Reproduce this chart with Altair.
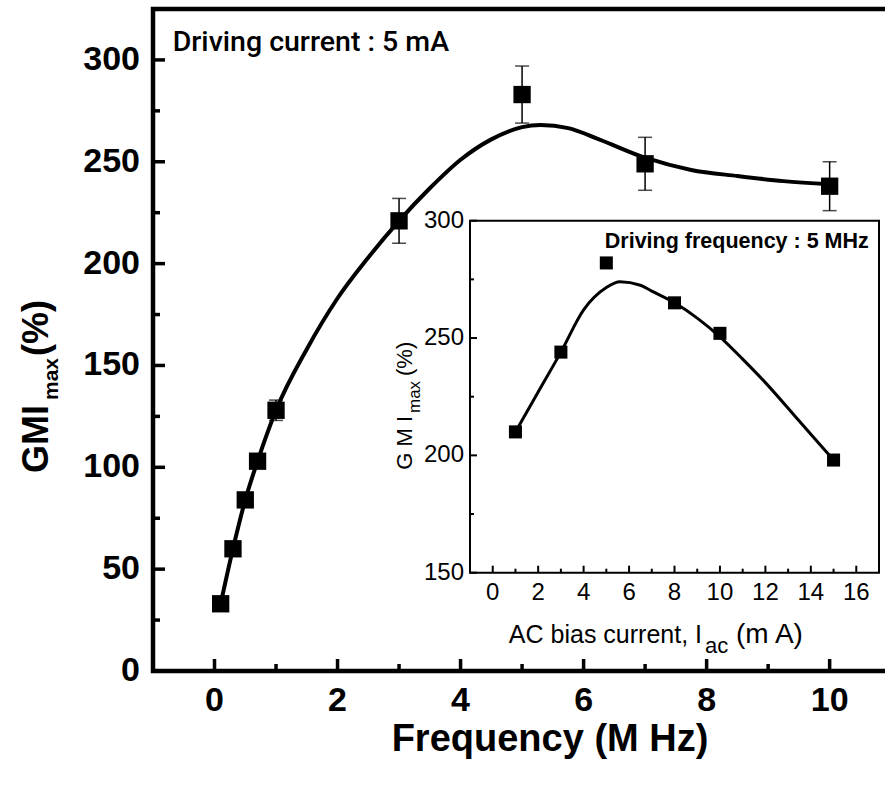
import altair as alt
import pandas as pd

# ---------------- data ----------------
freq = [0.1, 0.3, 0.5, 0.7, 1.0, 3.0, 5.0, 7.0, 10.0]
gmi = [33, 60, 84, 103, 128, 221, 283, 249, 238]
gmi_err = [3, 3, 3, 3, 5, 11, 14, 13, 12]

fit_freq = [0.1, 0.3, 0.5, 0.7, 1.0, 1.5, 2.0, 2.5, 3.0, 3.5, 4.0, 4.5, 5.0,
            5.3, 5.75, 6.25, 7.0, 7.75, 8.5, 9.25, 10.0]
fit_gmi = [33, 60, 84, 103, 128, 158, 183, 203, 221, 237, 251, 261, 267,
           268, 266.5, 261, 252, 246, 243, 240.5, 239]

iac = [1, 3, 5, 8, 10, 15]
gmi_iac = [210, 244, 282, 265, 252, 198]
fit_iac = [1, 2, 3, 4, 5, 5.6, 6.5, 7, 8, 9, 10, 11, 12, 13.5, 15]
fit_gmi_iac = [210, 227, 244, 262, 271.5, 274, 272.5, 270, 265, 258.5, 250.5,
               241, 231, 214.5, 198]

main_x_major = [0, 2, 4, 6, 8, 10]
main_x_minor = [1, 3, 5, 7, 9]
main_y_major = [0, 50, 100, 150, 200, 250, 300]
main_y_minor = [25, 75, 125, 175, 225, 275]
inset_x_major = [0, 2, 4, 6, 8, 10, 12, 14, 16]
inset_x_minor = [1, 3, 5, 7, 9, 11, 13, 15]
inset_y_major = [150, 200, 250, 300]
inset_y_minor = [175, 225, 275]

# ---------------- layout ----------------
W, H = 732, 662
FONT = "Liberation Sans"

xs_main = alt.Scale(domain=[-1, 10.9], nice=False, zero=False)
ys_main = alt.Scale(domain=[0, 325], nice=False, zero=False)
IN_L, IN_R, IN_B, IN_T = 317, 726, 563.7, 211.7
xs_in = alt.Scale(domain=[-1, 17], range=[IN_L, IN_R], nice=False, zero=False)
ys_in = alt.Scale(domain=[150, 300], range=[IN_B, IN_T], nice=False, zero=False)

pts = pd.DataFrame({"f": freq, "g": gmi, "lo": [g - e for g, e in zip(gmi, gmi_err)],
                    "hi": [g + e for g, e in zip(gmi, gmi_err)]})
fit = pd.DataFrame({"f": fit_freq, "g": fit_gmi})

X_ = lambda f: alt.X(f, scale=xs_main, axis=None)
Y_ = lambda f: alt.Y(f, scale=ys_main, axis=None)


def labels(vals):
    return pd.DataFrame({"v": vals, "t": [str(v) for v in vals]})


# tick labels (through the scales)
xlab = alt.Chart(labels(main_x_major)).mark_text(
    font=FONT, fontSize=34, fontWeight="bold", align="center", baseline="top", color="black").encode(
    x=X_("v:Q"), y=alt.value(H + 13), text="t:N")
ylab = alt.Chart(labels(main_y_major)).mark_text(
    font=FONT, fontSize=34, fontWeight="bold", align="right", baseline="middle", color="black").encode(
    y=Y_("v:Q"), x=alt.value(-13), text="t:N")

xmaj = alt.Chart(pd.DataFrame({"v": main_x_major})).mark_rule(color="black", strokeWidth=3.5).encode(
    x=X_("v:Q"), y=alt.value(H), y2=alt.value(H - 12))
xmin = alt.Chart(pd.DataFrame({"v": main_x_minor})).mark_rule(color="black", strokeWidth=3.5).encode(
    x=X_("v:Q"), y=alt.value(H), y2=alt.value(H - 7))
ymaj = alt.Chart(pd.DataFrame({"v": main_y_major})).mark_rule(color="black", strokeWidth=3.5).encode(
    y=Y_("v:Q"), x=alt.value(0), x2=alt.value(12))
ymin = alt.Chart(pd.DataFrame({"v": main_y_minor})).mark_rule(color="black", strokeWidth=3.5).encode(
    y=Y_("v:Q"), x=alt.value(0), x2=alt.value(7))

frame = alt.Chart(pd.DataFrame({"a": [0]})).mark_rect(
    fillOpacity=0, stroke="black", strokeWidth=4.5).encode(
    x=alt.value(0), x2=alt.value(W + 30), y=alt.value(0), y2=alt.value(H))

err = alt.Chart(pts).mark_rule(color="black", strokeWidth=1.5).encode(
    x=X_("f:Q"), y=Y_("lo:Q"), y2="hi:Q")
cap_lo = alt.Chart(pts).mark_tick(color="black", orient="horizontal", size=14, thickness=1.5).encode(
    x=X_("f:Q"), y=Y_("lo:Q"))
cap_hi = alt.Chart(pts).mark_tick(color="black", orient="horizontal", size=14, thickness=1.5).encode(
    x=X_("f:Q"), y=Y_("hi:Q"))

line = alt.Chart(fit).mark_line(color="black", strokeWidth=4, interpolate="monotone").encode(
    x=X_("f:Q"), y=Y_("g:Q"))
squares = alt.Chart(pts).mark_point(shape="square", filled=True, size=300, color="black", opacity=1).encode(
    x=X_("f:Q"), y=Y_("g:Q"))


def txt(s, x, y, size, weight="bold", align="left", baseline="middle", angle=0, font=FONT):
    kw = dict(fontSize=size, fontWeight=weight, align=align, baseline=baseline, font=font, color="black")
    if angle:
        kw["angle"] = angle
    return alt.Chart(pd.DataFrame({"t": [s]})).mark_text(**kw).encode(
        text="t:N", x=alt.value(x), y=alt.value(y))


annot = alt.Chart(pd.DataFrame({"f": [-0.68], "g": [309], "t": ["Driving current : 5 mA"]})).mark_text(
    font="Roboto, Liberation Sans", fontSize=28.5, fontWeight=500, align="left", baseline="middle",
    color="black").encode(x=X_("f:Q"), y=Y_("g:Q"), text="t:N")

xtitle = txt("Frequency (M Hz)", 397, 731, 38, align="center")
yt1 = txt("GMI", -116, 396, 36, align="right", angle=270)
yt2 = txt("max", -101, 391, 21, align="left", angle=270)
yt3 = txt("(%)", -116, 347, 36, align="left", angle=270)

main = alt.layer(err, cap_lo, cap_hi, line, squares, xmaj, xmin, ymaj, ymin, frame,
                 xlab, ylab, annot, xtitle, yt1, yt2, yt3)

# ---------------- inset ----------------
ipts = pd.DataFrame({"i": iac, "g": gmi_iac})
ifit = pd.DataFrame({"i": fit_iac, "g": fit_gmi_iac})
XI = lambda f: alt.X(f, scale=xs_in, axis=None)
YI = lambda f: alt.Y(f, scale=ys_in, axis=None)

inset_box = alt.Chart(pd.DataFrame({"x0": [-1], "x1": [17], "y0": [150], "y1": [300]})).mark_rect(
    fill="white", stroke="black", strokeWidth=2).encode(
    x=XI("x0:Q"), x2="x1:Q", y=YI("y0:Q"), y2="y1:Q")
ixmaj = alt.Chart(pd.DataFrame({"v": inset_x_major})).mark_rule(color="black", strokeWidth=2).encode(
    x=XI("v:Q"), y=alt.value(IN_B), y2=alt.value(IN_B - 7))
ixmin = alt.Chart(pd.DataFrame({"v": inset_x_minor})).mark_rule(color="black", strokeWidth=2).encode(
    x=XI("v:Q"), y=alt.value(IN_B), y2=alt.value(IN_B - 4))
iymaj = alt.Chart(pd.DataFrame({"v": inset_y_major})).mark_rule(color="black", strokeWidth=2).encode(
    y=YI("v:Q"), x=alt.value(IN_L), x2=alt.value(IN_L + 7))
iymin = alt.Chart(pd.DataFrame({"v": inset_y_minor})).mark_rule(color="black", strokeWidth=2).encode(
    y=YI("v:Q"), x=alt.value(IN_L), x2=alt.value(IN_L + 4))
ixlab = alt.Chart(labels(inset_x_major)).mark_text(
    font=FONT, fontSize=24, align="center", baseline="top", color="black").encode(
    x=XI("v:Q"), y=alt.value(IN_B + 8), text="t:N")
iylab = alt.Chart(labels(inset_y_major)).mark_text(
    font=FONT, fontSize=24, align="right", baseline="middle", color="black").encode(
    y=YI("v:Q"), x=alt.value(IN_L - 6), text="t:N")
iline = alt.Chart(ifit).mark_line(color="black", strokeWidth=3, interpolate="monotone").encode(
    x=XI("i:Q"), y=YI("g:Q"))
isq = alt.Chart(ipts).mark_point(shape="square", filled=True, size=170, color="black", opacity=1).encode(
    x=XI("i:Q"), y=YI("g:Q"))
iannot = alt.Chart(pd.DataFrame({"i": [10.74], "g": [290.9], "t": ["Driving frequency : 5 MHz"]})).mark_text(
    font=FONT, fontSize=21.5, fontWeight="bold", align="center", baseline="middle", color="black").encode(
    x=XI("i:Q"), y=YI("g:Q"), text="t:N")

ixt1 = txt("AC bias current, I", 549, 634, 25, weight="normal", align="right", baseline="alphabetic")
ixt2 = txt("ac", 552, 644, 22, weight="normal", align="left", baseline="alphabetic")
ixt3 = txt("(m A)", 583, 634, 28, weight="normal", align="left", baseline="alphabetic")
iyt1 = txt("G M I", 252, 407, 22, weight="normal", align="right", angle=270)
iyt2 = txt("max", 262, 404, 17, weight="normal", align="left", angle=270)
iyt3 = txt("(%)", 252, 367, 22, weight="normal", align="left", angle=270)

inset = alt.layer(inset_box, ixmaj, ixmin, iymaj, iymin, ixlab, iylab, iline, isq, iannot,
                  ixt1, ixt2, ixt3, iyt1, iyt2, iyt3)

chart = alt.layer(main, inset).resolve_scale(x="independent", y="independent").properties(
    width=W, height=H,
    autosize=alt.AutoSizeParams(type="none"),
    padding={"left": 153, "top": 9, "right": 0, "bottom": 119},
    background="white",
).configure_view(stroke=None)

chart.save("out.html", embed_options={"renderer": "svg", "actions": False})
